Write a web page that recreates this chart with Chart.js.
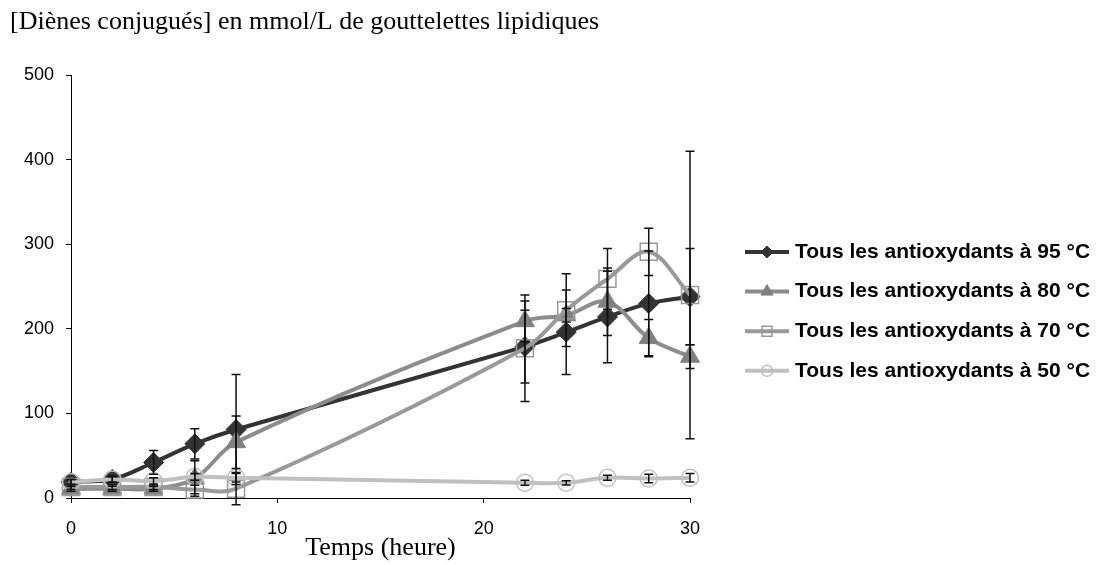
<!DOCTYPE html>
<html>
<head>
<meta charset="utf-8">
<script src="https://cdn.jsdelivr.net/npm/chart.js@4.4.1/dist/chart.umd.min.js"></script>
<style>
  body { margin: 0; background: #fff; }
  #wrap { width: 1097px; height: 565px; }
</style>
</head>
<body>
<div id="wrap"><canvas id="dienes-chart" width="1097" height="565"></canvas></div>
<script>
// sampling times (hours)
let hours = [0, 2, 4, 6, 8, 22, 24, 26, 28, 30];

let seriesNames = [
  'Tous les antioxydants à 95 °C',
  'Tous les antioxydants à 80 °C',
  'Tous les antioxydants à 70 °C',
  'Tous les antioxydants à 50 °C'
];

// mean values, mmol/L
let values95 = [19, 22, 42, 64, 81, 179, 196, 214, 230, 238];
let values80 = [11, 11, 11, 23, 66, 209, 216, 232, 189, 167];
let values70 = [13, 13, 13, 10, 11, 177, 222, 259, 291, 240];
let values50 = [19, 22, 20, 25, 24, 18, 18, 24, 23, 24];

// +/- error
let errors95 = [3, 4, 14, 18, 65, 43, 50, 54, 62, 57];
let errors80 = [3, 3, 3, 21, 31, 24, 8, 40, 22, 14];
let errors70 = [3, 3, 3, 5, 19, 63, 43, 36, 28, 170];
let errors50 = [3, 3, 4, 4, 5, 3, 2.5, 3, 5, 5];

let yTicks = [0, 100, 200, 300, 400, 500];
let xTicks = [0, 10, 20, 30];

const sans = '"Liberation Sans", Arial, sans-serif';
const serif = '"Liberation Serif", "Times New Roman", serif';

function points(vals) {
  return hours.map((h, i) => ({x: h, y: vals[i]}));
}

const errorBars = {
  id: 'errorBars',
  afterDatasetsDraw(chart, args, opts) {
    const {ctx, scales: {x, y}} = chart;
    ctx.save();
    ctx.strokeStyle = opts.color;
    ctx.lineWidth = opts.width;
    chart.data.datasets.forEach((ds) => {
      ds.data.forEach((pt, j) => {
        const err = ds.errors[j];
        const px = x.getPixelForValue(pt.x);
        const top = y.getPixelForValue(pt.y + err);
        const bot = y.getPixelForValue(pt.y - err);
        ctx.beginPath();
        ctx.moveTo(px, top); ctx.lineTo(px, bot);
        ctx.moveTo(px - opts.cap, top); ctx.lineTo(px + opts.cap, top);
        ctx.moveTo(px - opts.cap, bot); ctx.lineTo(px + opts.cap, bot);
        ctx.stroke();
      });
    });
    ctx.restore();
  }
};

// legend on the right: line sample + marker + bold text
const sideLegend = {
  id: 'sideLegend',
  afterDraw(chart, args, opts) {
    const ctx = chart.ctx;
    const area = chart.chartArea;
    ctx.save();
    chart.data.datasets.forEach((ds, i) => {
      const x = area.right + opts.offsetX;
      const y = opts.top + i * opts.rowHeight;
      ctx.strokeStyle = ds.borderColor;
      ctx.lineWidth = 4;
      ctx.beginPath();
      ctx.moveTo(x, y);
      ctx.lineTo(x + opts.lineLength, y);
      ctx.stroke();
      ctx.fillStyle = ds.pointBackgroundColor;
      ctx.strokeStyle = ds.pointBorderColor;
      ctx.lineWidth = ds.pointBorderWidth;
      Chart.helpers.drawPoint(ctx, {
        pointStyle: ds.pointStyle,
        radius: ds.legendRadius,
        borderWidth: ds.pointBorderWidth,
        rotation: 0
      }, x + opts.lineLength / 2, y);
      ctx.fillStyle = '#000';
      ctx.font = 'bold 21px ' + sans;
      ctx.textBaseline = 'middle';
      ctx.textAlign = 'left';
      ctx.fillText(ds.label, x + opts.lineLength + 6, y);
    });
    ctx.restore();
  }
};

let ctx = document.getElementById('dienes-chart').getContext('2d');

let dienesChart = new Chart(ctx, {
  type: 'line',
  data: {
    datasets: [{
      label: seriesNames[0],
      data: points(values95),
      errors: errors95,
      borderColor: '#333333',
      borderWidth: 4,
      pointStyle: 'rectRot',
      pointRadius: 10,
      pointBackgroundColor: '#333333',
      pointBorderColor: '#333333',
      pointBorderWidth: 1,
      legendRadius: 6,
      order: 4
    }, {
      label: seriesNames[1],
      data: points(values80),
      errors: errors80,
      borderColor: '#8c8c8c',
      borderWidth: 4,
      pointStyle: 'triangle',
      pointRadius: 11,
      pointBackgroundColor: '#808080',
      pointBorderColor: '#808080',
      pointBorderWidth: 1,
      legendRadius: 7,
      order: 3
    }, {
      label: seriesNames[2],
      data: points(values70),
      errors: errors70,
      borderColor: '#999999',
      borderWidth: 4,
      pointStyle: 'rect',
      pointRadius: 12,
      pointBackgroundColor: 'rgba(0,0,0,0)',
      pointBorderColor: '#999999',
      pointBorderWidth: 1.5,
      legendRadius: 7,
      order: 2
    }, {
      label: seriesNames[3],
      data: points(values50),
      errors: errors50,
      borderColor: '#c0c0c0',
      borderWidth: 4,
      pointStyle: 'circle',
      pointRadius: 8.5,
      pointBackgroundColor: 'rgba(0,0,0,0)',
      pointBorderColor: '#c0c0c0',
      pointBorderWidth: 1.5,
      legendRadius: 5.5,
      order: 1
    }]
  },
  options: {
    responsive: false,
    devicePixelRatio: 1,
    animation: false,
    clip: false,
    elements: {
      line: { tension: 0.35, fill: false },
      point: { hoverRadius: 10 }
    },
    layout: {
      padding: { left: 10, right: 407, top: 0, bottom: 0 }
    },
    scales: {
      x: {
        type: 'linear',
        min: 0,
        max: 30,
        afterBuildTicks: (axis) => { axis.ticks = xTicks.map(v => ({value: v})); },
        afterFit: (scale) => { scale.height = 67; },
        grid: { drawOnChartArea: false, drawTicks: true, tickLength: 5, color: '#000' },
        border: { color: '#000', width: 1 },
        ticks: { color: '#000', padding: 15, font: { family: sans, size: 18 } },
        title: {
          display: true,
          text: 'Temps (heure)',
          color: '#000',
          font: { family: serif, size: 26 },
          padding: { top: 0, bottom: 1 }
        }
      },
      y: {
        min: 0,
        max: 500,
        afterBuildTicks: (axis) => { axis.ticks = yTicks.map(v => ({value: v})); },
        afterFit: (scale) => { scale.width = 61; },
        grid: { drawOnChartArea: false, drawTicks: true, tickLength: 5, color: '#000' },
        border: { color: '#000', width: 1 },
        ticks: { color: '#000', padding: 12, font: { family: sans, size: 18 } }
      }
    },
    plugins: {
      legend: { display: false },
      tooltip: { enabled: false },
      title: {
        display: true,
        text: '[Diènes conjugués] en mmol/L de gouttelettes lipidiques',
        align: 'start',
        color: '#000',
        font: { family: serif, size: 26, weight: 'normal' },
        padding: { top: 6.4, bottom: 37.4 }
      },
      errorBars: { color: '#111', width: 1.5, cap: 4.5 },
      sideLegend: { offsetX: 55, top: 252, rowHeight: 39.6, lineLength: 44 }
    }
  },
  plugins: [errorBars, sideLegend]
});
</script>
</body>
</html>
